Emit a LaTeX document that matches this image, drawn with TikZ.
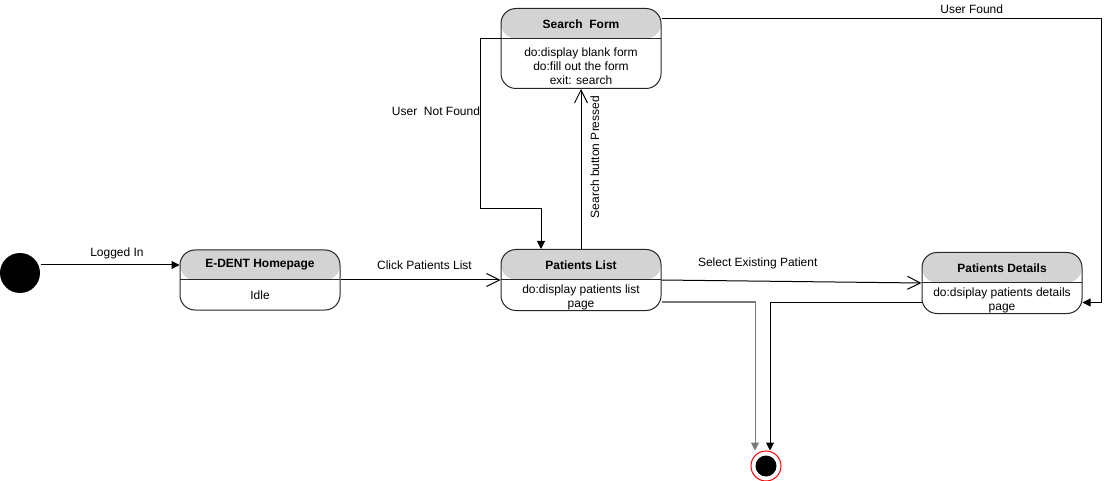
\documentclass[tikz,border=0pt]{standalone}
\usepackage{fontspec}
\setmainfont{Liberation Sans}
\usetikzlibrary{positioning, calc, arrows.meta}

\definecolor{headgray}{RGB}{211,211,211}
\definecolor{edgegray}{RGB}{120,120,120}

\begin{document}
\begin{tikzpicture}[
x=1pt, y=-1pt,
every path/.style={line width=1pt},
font=\fontsize{12}{14}\selectfont,
statebox/.style={rectangle,
  draw=black!85,
  rounded corners=15pt,
  minimum width=160pt,
  minimum height=#1,
  inner sep=0pt,
  path picture={
    \fill[headgray] (path picture bounding box.north west) rectangle
      ([yshift=-30pt]path picture bounding box.north east);
    \draw[black!85] ([yshift=-30pt]path picture bounding box.north west) --
      ([yshift=-30pt]path picture bounding box.north east);
  }
},
statetitle/.style={inner sep=0pt, font=\fontsize{12}{14}\selectfont\bfseries},
statebody/.style={inner sep=0pt, align=center},
manylines/.style={yshift=-2.5pt},
lbl/.style={inner sep=1pt},
startdot/.style={circle, fill=black, minimum size=40pt, inner sep=0pt},
enddot/.style={circle, draw=red, minimum size=30pt, inner sep=0pt,
  path picture={\fill[black] (path picture bounding box.center) circle (10.5pt);}},
filled/.style={-{Triangle[length=8pt,width=8pt]}},
open/.style={-{Straight Barb[length=13pt,width=13pt]}},
]
\useasboundingbox (0,0) rectangle (1109,481);

% states
\node[startdot] (start) at (20,273) {};
\node[statebox=60pt] (home) at (260,280) {};
\node[statebox=61pt, right=160pt of home] (list) {};
\node[statebox=80pt, above=160pt of list] (search) {};
\node[statebox=61pt, right=260pt of list, yshift=-3pt] (details) {};
\node[enddot] (end) at (766,466) {};

% texts of the states
\node[statetitle] (home-t) at ([yshift=-15.5pt]home.north) {E-DENT Homepage};
\node[statebody] (home-b) at ($([yshift=-30pt]home.north)!0.5!(home.south)$) {Idle};
\node[statetitle] (list-t) at ([yshift=-16pt]list.north) {Patients List};
\node[statebody, manylines] (list-b) at ($([yshift=-30pt]list.north)!0.5!(list.south)$)
    {do:display patients list\\page};
\node[statetitle] (search-t) at ([yshift=-16pt]search.north) {Search\ \ Form};
\node[statebody, manylines] (search-b) at ($([yshift=-30pt]search.north)!0.5!(search.south)$)
    {do:display blank form\\do:fill out the form\\exit: search};
\node[statetitle] (details-t) at ([yshift=-16pt]details.north) {Patients Details};
\node[statebody, manylines] (details-b) at ($([yshift=-30pt]details.north)!0.5!(details.south)$)
    {do:dsiplay patients details\\page};

% transitions
\draw[filled] ([yshift=8pt]start.east) -- ([yshift=15pt]home.west)
    node[lbl, pos=0.55, above=5pt] {Logged In};
\draw[open] (home.east) -- (list.west)
    node[lbl, pos=0.525, above=9pt] {Click Patients List};
\draw[open] (list.east) -- (details.west)
    node[lbl, pos=0.37, above=11pt] {Select Existing Patient};
\draw[open] (list.north) -- (search.south)
    node[lbl, pos=0.575, rotate=90, anchor=north, inner sep=9pt] {Search button Pressed};
\draw[filled] ([yshift=10pt]search.west) -- ++(-20,0) -- ++(0,170)
    node[lbl, pos=0.43, anchor=east, inner sep=0pt] {User\ \ Not Found}
    -| ([xshift=-40pt]list.north);
\draw[filled] ([yshift=30pt]search.east) -- ++(440,0)
    node[lbl, pos=0.705, above=3pt] {User Found}
    |- ([yshift=-19.5pt]details.east);
\draw[filled, edgegray] ([yshift=-22pt]list.east) -| ([xshift=-11pt]end.north);
\draw[filled] ([yshift=-19.5pt]details.west) -| ([xshift=4pt]end.north);
\end{tikzpicture}
\end{document}
